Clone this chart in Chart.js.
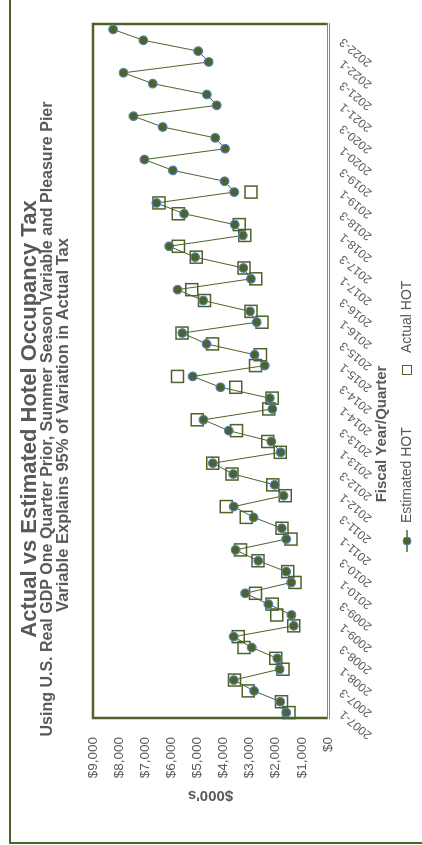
<!DOCTYPE html>
<html>
<head>
<meta charset="utf-8">
<title>Actual vs Estimated Hotel Occupancy Tax</title>
<script src="https://cdn.jsdelivr.net/npm/chart.js@4.4.1/dist/chart.umd.min.js"></script>
<style>
  html, body { margin: 0; padding: 0; background: #fff; }
  #page { position: relative; width: 422px; height: 845px; overflow: hidden; background: #fff; }
  /* the chart is laid out landscape and turned a quarter turn counter-clockwise */
  #turn { position: absolute; left: 0; top: 0; width: 845px; height: 422px;
          transform-origin: 0 0; transform: translate(0px, 845px) rotate(-90deg); }
  canvas { display: block; }
</style>
</head>
<body>
<div id="page"><div id="turn"><canvas id="hot" width="845" height="422"></canvas></div></div>
<script>
// Fiscal year / quarter categories
const quarters = [
  '2007-1','2007-2','2007-3','2007-4','2008-1','2008-2','2008-3','2008-4',
  '2009-1','2009-2','2009-3','2009-4','2010-1','2010-2','2010-3','2010-4',
  '2011-1','2011-2','2011-3','2011-4','2012-1','2012-2','2012-3','2012-4',
  '2013-1','2013-2','2013-3','2013-4','2014-1','2014-2','2014-3','2014-4',
  '2015-1','2015-2','2015-3','2015-4','2016-1','2016-2','2016-3','2016-4',
  '2017-1','2017-2','2017-3','2017-4','2018-1','2018-2','2018-3','2018-4',
  '2019-1','2019-2','2019-3','2019-4','2020-1','2020-2','2020-3','2020-4',
  '2021-1','2021-2','2021-3','2021-4','2022-1','2022-2','2022-3','2022-4'
];

// Model estimate of hotel occupancy tax, $000's
const estimatedHot = [
  1600, 1830, 2830, 3610,  1850, 1940, 2920, 3610,
  1310, 1400, 2280, 3170,  1410, 1600, 2670, 3540,
  1600, 1770, 2850, 3610,  1700, 2040, 3630, 4410,
  1810, 2170, 3800, 4770,  2130, 2230, 4120, 5180,
  2420, 2810, 4650, 5580,  2730, 2990, 4780, 5760,
  2950, 3240, 5090, 6080,  3260, 3570, 5510, 6570,
  3590, 3960, 5940, 7030,  3940, 4320, 6330, 7450,
  4260, 4640, 6710, 7830,  4570, 4970, 7070, 8230
];

// Collected hotel occupancy tax, $000's (reported through 2019-1)
const actualHot = [
  1490, 1780, 3050, 3580,  1720, 2000, 3220, 3440,
  1310, 1960, 2140, 2780,  1260, 1540, 2680, 3350,
  1420, 1760, 3130, 3900,  1640, 2120, 3680, 4410,
  1830, 2310, 3500, 5010,  2270, 2140, 3530, 5760,
  2780, 2590, 4420, 5590,  2530, 2950, 4730, 5220,
  2770, 3220, 5050, 5730,  3190, 3400, 5730, 6470,
  2950, null, null, null,  null, null, null, null,
  null, null, null, null,  null, null, null, null
];

const titleText = 'Actual vs Estimated Hotel Occupancy Tax';
const subtitleLines = [
  'Using U.S. Real GDP One Quarter Prior, Summer Season Variable and Pleasure Pier',
  'Variable Explains 95% of Variation in Actual Tax'
];
const xTitle = 'Fiscal Year/Quarter';
const yTitle = "$000's";

const FONT = "'Liberation Sans', Arial, sans-serif";
const INK = '#595959';
const OLIVE = '#4F6228';
const MARKER_EDGE = '#4F81BD';

const decor = {
  id: 'decor',
  beforeDraw(chart) {
    const c = chart.ctx;
    c.save();
    c.fillStyle = '#fff';
    c.fillRect(0, 0, chart.width, chart.height);
    // outer chart frame (continues past the visible edge)
    c.strokeStyle = OLIVE;
    c.lineWidth = 2;
    c.strokeRect(2, 10, chart.width + 40, chart.height + 40);
    c.restore();
  },
  beforeDatasetsDraw(chart) {
    const { left, right, top, bottom } = chart.chartArea;
    const c = chart.ctx;
    c.save();
    c.strokeStyle = OLIVE;
    c.lineWidth = 2.5;
    c.beginPath();
    c.moveTo(left, bottom);
    c.lineTo(left, top);
    c.lineTo(right, top);
    c.lineTo(right, bottom);
    c.stroke();
    c.strokeStyle = '#7F9159';
    c.lineWidth = 1;
    c.beginPath();
    c.moveTo(left - 1, bottom - 0.5); c.lineTo(right + 1, bottom - 0.5);
    c.moveTo(left - 1, bottom + 1.5); c.lineTo(right + 1, bottom + 1.5);
    c.stroke();
    c.restore();
  },
  afterDraw(chart) {
    const c = chart.ctx;
    c.save();
    c.fillStyle = INK;
    c.textAlign = 'center';
    c.textBaseline = 'alphabetic';
    c.font = 'bold 22px ' + FONT;
    c.fillText(titleText, 426, 35.5);
    c.font = 'bold 16px ' + FONT;
    c.fillText(subtitleLines[0], 426, 51.5);
    c.font = 'bold 16.5px ' + FONT;
    c.fillText(subtitleLines[1], 420, 67.5);

    // category axis title
    c.font = 'bold 15px ' + FONT;
    c.fillText(xTitle, 411, 386);

    // legend
    const ly = 407;
    const ds = chart.data.datasets;
    c.textAlign = 'left';
    c.textBaseline = 'middle';
    c.font = '14px ' + FONT;
    // Estimated: line with round marker
    c.strokeStyle = OLIVE;
    c.lineWidth = 1.5;
    c.beginPath(); c.moveTo(293, ly); c.lineTo(315, ly); c.stroke();
    c.beginPath(); c.arc(304, ly, 4, 0, Math.PI * 2);
    c.fillStyle = OLIVE; c.fill();
    c.strokeStyle = MARKER_EDGE; c.lineWidth = 1; c.stroke();
    c.fillStyle = INK;
    c.fillText(ds[0].label, 322, ly);
    // Actual: hollow square
    c.strokeStyle = OLIVE;
    c.lineWidth = 1;
    c.strokeRect(470.5, ly - 4.5, 9, 9);
    c.fillText(ds[1].label, 492, ly);
    c.restore();
  }
};

new Chart(document.getElementById('hot'), {
  type: 'line',
  data: {
    labels: quarters,
    datasets: [
      {
        label: 'Estimated HOT',
        data: estimatedHot,
        borderColor: OLIVE,
        borderWidth: 1,
        tension: 0,
        pointRadius: 4.3,
        pointBackgroundColor: OLIVE,
        pointBorderColor: MARKER_EDGE,
        pointBorderWidth: 1.2
      },
      {
        label: 'Actual HOT',
        data: actualHot,
        showLine: false,
        pointStyle: 'rect',
        pointRadius: 8.5,
        pointBackgroundColor: 'rgba(255,255,255,0)',
        pointBorderColor: OLIVE,
        pointBorderWidth: 1.5
      }
    ]
  },
  options: {
    responsive: false,
    animation: false,
    devicePixelRatio: 1,
    layout: { padding: { top: 93, right: 24, left: 0, bottom: 0 } },
    plugins: {
      legend: { display: false },
      tooltip: { enabled: false },
      title: { display: false }
    },
    scales: {
      x: {
        offset: true,
        grid: { display: false, drawTicks: false },
        border: { display: false },
        ticks: {
          autoSkip: false,
          minRotation: 50,
          maxRotation: 50,
          padding: 9,
          color: INK,
          font: { family: FONT, size: 12 },
          callback(value, index) {
            return index % 2 === 0 ? this.getLabelForValue(value) : '';
          }
        },
        afterFit(scale) { scale.height = 422 - 328; }
      },
      y: {
        min: 0,
        max: 9000,
        grid: { display: false, drawTicks: false },
        border: { display: false },
        ticks: {
          stepSize: 1000,
          padding: 19,
          color: INK,
          font: { family: FONT, size: 13.5 },
          callback: v => '$' + v.toLocaleString('en-US')
        },
        title: {
          display: true,
          text: yTitle,
          color: INK,
          font: { family: FONT, size: 15, weight: 'bold' },
          padding: { top: 41, bottom: 0 }
        },
        afterFit(scale) { scale.width = 127; }
      }
    }
  },
  plugins: [decor]
});
</script>
</body>
</html>
